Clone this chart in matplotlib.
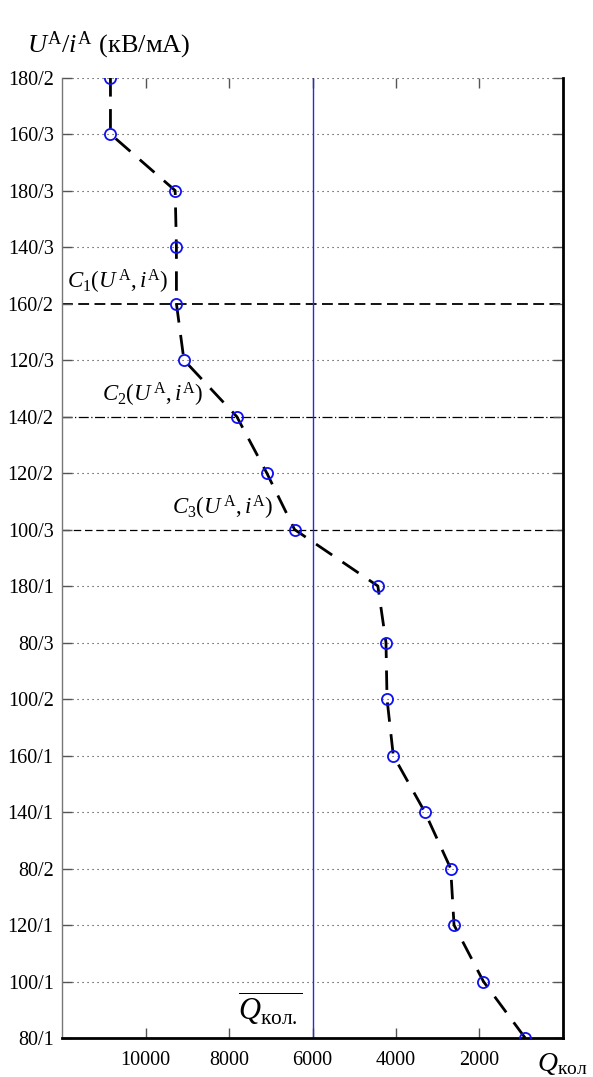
import matplotlib
matplotlib.use('Agg')
import matplotlib.pyplot as plt

plt.rcParams['font.family'] = ['Liberation Serif', 'DejaVu Serif']
plt.rcParams['mathtext.fontset'] = 'custom'
plt.rcParams['mathtext.rm'] = 'Liberation Serif'
plt.rcParams['mathtext.it'] = 'Liberation Serif:italic'
plt.rcParams['mathtext.bf'] = 'Liberation Serif:bold'

# categories from bottom to top, in the order of the curve
modes = ['80/1', '100/1', '120/1', '80/2', '140/1', '160/1', '100/2', '80/3',
         '180/1', '100/3', '120/2', '140/2', '120/3', '160/2', '140/3',
         '180/3', '160/3', '180/2']
q_kol = [905, 1905, 2610, 2690, 3310, 4065, 4215, 4240,
         4435, 6430, 7095, 7815, 9080, 9260, 9260,
         9290, 10840, 10840]
q_mean = 6000
xticks = [10000, 8000, 6000, 4000, 2000]

# special horizontal lines: label -> style
special = {'160/2': ('--', 1.3), '140/2': ('-.', 0.9), '100/3': ('--', 0.9)}
c_labels = [('160/2', 11880, r'$C_1(U^{\,\mathrm{A}},i^{\mathrm{A}})$'),
            ('140/2', 11040, r'$C_2(U^{\,\mathrm{A}},i^{\mathrm{A}})$'),
            ('100/3', 9370, r'$C_3(U^{\,\mathrm{A}},i^{\mathrm{A}})$')]

fig = plt.figure(figsize=(5.93, 10.77), dpi=100)
ax = fig.add_axes([0.1046, 0.0362, 0.9494 - 0.1046, 0.928 - 0.0362])

for i, m in enumerate(modes):
    if i == 0:
        continue
    if m in special:
        ls, lw = special[m]
        ax.axhline(i, color='k', ls=ls, lw=lw, dashes=(6, 3) if ls == '--' else (8, 2, 1, 2), zorder=1)
    else:
        ax.axhline(i, color='#333333', lw=0.8, dashes=(1, 3.5), zorder=1)

ax.axvline(q_mean, color='#2a2ad8', lw=1.0, zorder=2)

ax.plot(q_kol, modes, color='k', lw=2.0, dashes=(7, 4.5), zorder=3)
ax.plot(q_kol, modes, ls='none', marker='o', ms=8, mfc='none', mec='#1010ee', mew=1.3, zorder=4)

for m, x, t in c_labels:
    ax.text(x, modes.index(m) + 0.13, t, fontsize=16.5, ha='left', va='bottom')

ax.text(6230, 0.3, r'$\overline{Q_{\mathrm{кол.}}}$', fontsize=22, ha='right', va='baseline')

ax.set_xlim(12000, 0)
ax.set_ylim(0, len(modes) - 1)
ax.set_xticks(xticks)
ax.set_xticklabels([str(v) for v in xticks])

ax.tick_params(axis='both', direction='in', labelsize=14.5, color='#555555',
               top=True, right=True, length=7, width=1.0)
ax.tick_params(axis='x', pad=9)
ax.tick_params(axis='y', pad=6)

ax.spines['top'].set_visible(False)
ax.spines['left'].set_color('#777777')
ax.spines['left'].set_linewidth(1.0)
ax.spines['right'].set_linewidth(2.0)
ax.spines['bottom'].set_linewidth(2.0)

fig.text(0.045, 0.958, r'$U^{\mathrm{A}}/i^{\mathrm{A}}$ (кВ/мА)', fontsize=19, ha='left', va='center')
fig.text(0.905, 0.0, r'$Q_{\mathrm{кол}}$', fontsize=20, ha='left', va='bottom')

fig.savefig('out.png', dpi=100)
